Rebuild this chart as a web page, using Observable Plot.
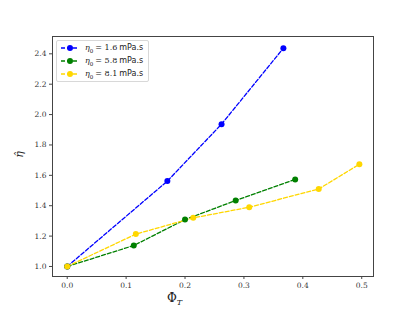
<!DOCTYPE html>
<html>
<head>
<meta charset="utf-8">
<script src="https://cdn.jsdelivr.net/npm/d3@7"></script>
<script src="https://cdn.jsdelivr.net/npm/@observablehq/plot@0.6"></script>
<style>
  html, body { margin: 0; padding: 0; background: #fff; }
  #wrap { position: relative; width: 415px; height: 311px; }
  .ser { font-family: "DejaVu Serif", serif; }
  #legend { position: absolute; left: 56px; top: 40px; width: 93px; height: 42px;
    border: 1px solid #d8d8d8; border-radius: 2px; background: rgba(255,255,255,0.8); box-sizing: border-box; }
  .row { position: absolute; left: 3px; height: 12px; display: flex; align-items: center; }
  .row svg { display: block; }
  .row > span { margin-left: 5px; font-size: 8px; color: #222; white-space: nowrap; }
  .row span i { font-family: "DejaVu Serif", serif; }
  .row span .s { font-family: "DejaVu Sans", sans-serif; }
  #xlab { position: absolute; left: 167px; top: 291px; font-size: 12px; color: #222; font-family: "DejaVu Serif", serif; }
  #ylab { position: absolute; left: 16px; top: 148px; font-size: 11px; color: #222; font-family: "DejaVu Serif", serif; transform: rotate(-90deg); transform-origin: center; }
</style>
</head>
<body>
<div id="wrap"></div>
<script>
const seriesNames = ["η0 = 1.6 mPa.s", "η0 = 5.8 mPa.s", "η0 = 8.1 mPa.s"];
const seriesColors = ["#0000ff", "#008000", "#ffd700"];
const legendValues = ["1.6", "5.8", "8.1"];
const blueX = [0.0, 0.170, 0.262, 0.367];
const blueY = [1.0, 1.562, 1.937, 2.437];
const greenX = [0.0, 0.113, 0.200, 0.286, 0.387];
const greenY = [1.0, 1.138, 1.309, 1.434, 1.573];
const yellowX = [0.0, 0.1165, 0.214, 0.309, 0.427, 0.496];
const yellowY = [1.0, 1.213, 1.320, 1.390, 1.510, 1.673];
const xTicks = [0.0, 0.1, 0.2, 0.3, 0.4, 0.5];
const yTicks = [1.0, 1.2, 1.4, 1.6, 1.8, 2.0, 2.2, 2.4];

const allX = [blueX, greenX, yellowX];
const allY = [blueY, greenY, yellowY];
const data = [];
allX.forEach((xs, i) => xs.forEach((x, j) => data.push({series: seriesNames[i], x, y: allY[i][j]})));

const plot = Plot.plot({
  width: 415, height: 311,
  marginLeft: 52, marginRight: 42, marginTop: 36, marginBottom: 35,
  style: { fontFamily: "DejaVu Serif, serif", fontSize: "7.5px", color: "#333", background: "transparent" },
  x: { domain: [-0.025, 0.52] },
  y: { domain: [0.934, 2.514] },
  color: { domain: seriesNames, range: seriesColors },
  marks: [
    Plot.frame({ stroke: "#444", strokeWidth: 1 }),
    Plot.axisX({ ticks: xTicks, tickFormat: d3.format(".1f"), tickSize: 3, tickPadding: 3, label: null, stroke: "#444" }),
    Plot.axisY({ ticks: yTicks, tickFormat: d3.format(".1f"), tickSize: 3, tickPadding: 3, label: null, stroke: "#444" }),
    Plot.line(data, { x: "x", y: "y", z: "series", stroke: "series", strokeWidth: 1.3, strokeDasharray: "4,2" }),
    Plot.dot(data, { x: "x", y: "y", fill: "series", r: 3, stroke: null })
  ]
});
const wrap = document.getElementById("wrap");
wrap.appendChild(plot);

// axis labels
const xl = document.createElement("div");
xl.id = "xlab";
xl.innerHTML = "Φ<sub style='font-size:8px;font-style:italic'>T</sub>";
wrap.appendChild(xl);
const yl = document.createElement("div");
yl.id = "ylab";
yl.innerHTML = "<i>η̂</i>";
wrap.appendChild(yl);

// legend
const lg = document.createElement("div");
lg.id = "legend";
seriesNames.forEach((name, i) => {
  const row = document.createElement("div");
  row.className = "row";
  row.style.top = (1 + i * 13) + "px";
  row.innerHTML = `<svg width="20" height="8"><line x1="1" y1="4" x2="19" y2="4" stroke="${seriesColors[i]}" stroke-width="1.3" stroke-dasharray="4,2"/><circle cx="10" cy="4" r="3" fill="${seriesColors[i]}"/></svg><span><i>η</i><sub style="font-size:5.5px;font-family:'DejaVu Serif',serif">0</sub> <span class="ser">= ${legendValues[i]}</span> <span class="s">mPa.s</span></span>`;
  lg.appendChild(row);
});
wrap.appendChild(lg);
</script>
</body>
</html>
